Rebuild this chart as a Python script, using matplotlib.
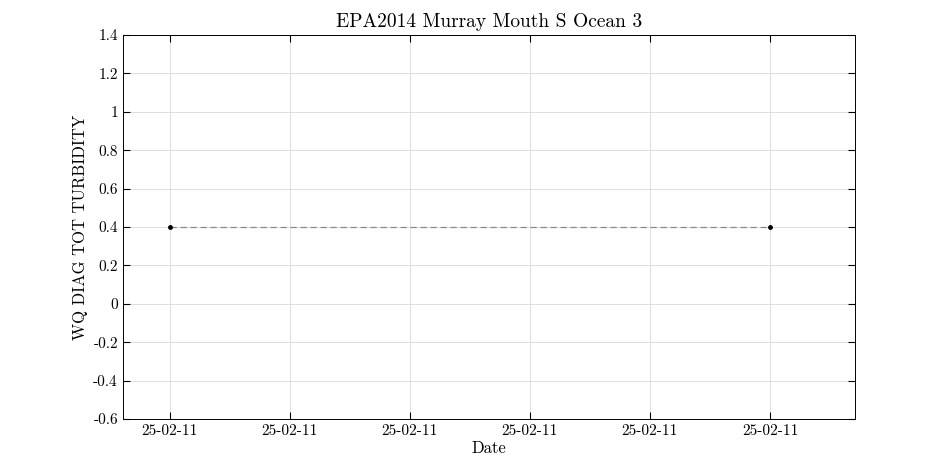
import datetime as dt
import matplotlib
matplotlib.use('Agg')
import matplotlib.pyplot as plt
import matplotlib.dates as mdates

plt.rcParams['font.family'] = ['cmr10', 'DejaVu Serif']

# data
times = [dt.datetime(2011, 2, 25, 0, 0), dt.datetime(2011, 2, 25, 10, 0)]
turbidity = [0.4, 0.4]
yticks = [-0.6, -0.4, -0.2, 0, 0.2, 0.4, 0.6, 0.8, 1, 1.2, 1.4]

fig = plt.figure(figsize=(9.45, 4.72), dpi=100)
ax = fig.add_axes([0.130, 0.112, 0.775, 0.814])

ax.plot(times, turbidity, color='#888888', linestyle='--', linewidth=0.9, dashes=(5, 3))
ax.plot(times, turbidity, 'k.', markersize=5)

start = times[0]
ax.set_xlim(start - dt.timedelta(hours=0.78), start + dt.timedelta(hours=11.42))
ax.set_xticks([start + dt.timedelta(hours=2 * i) for i in range(6)])
ax.xaxis.set_major_formatter(mdates.DateFormatter('%d-%m-%y'))
ax.set_ylim(-0.6, 1.4)
ax.set_yticks(yticks)
ax.set_yticklabels([f'{v:g}' for v in yticks])

ax.grid(True, color='#dddddd', linewidth=0.7)
ax.tick_params(direction='in', top=True, right=True, labelsize=11, length=5)
for s in ax.spines.values():
    s.set_linewidth(0.7)

ax.set_title('EPA2014 Murray Mouth S Ocean 3', fontsize=14)
ax.set_xlabel('Date', fontsize=12, labelpad=2)
ax.set_ylabel('WQ DIAG TOT TURBIDITY', fontsize=12)

fig.savefig('out.png', dpi=100)
